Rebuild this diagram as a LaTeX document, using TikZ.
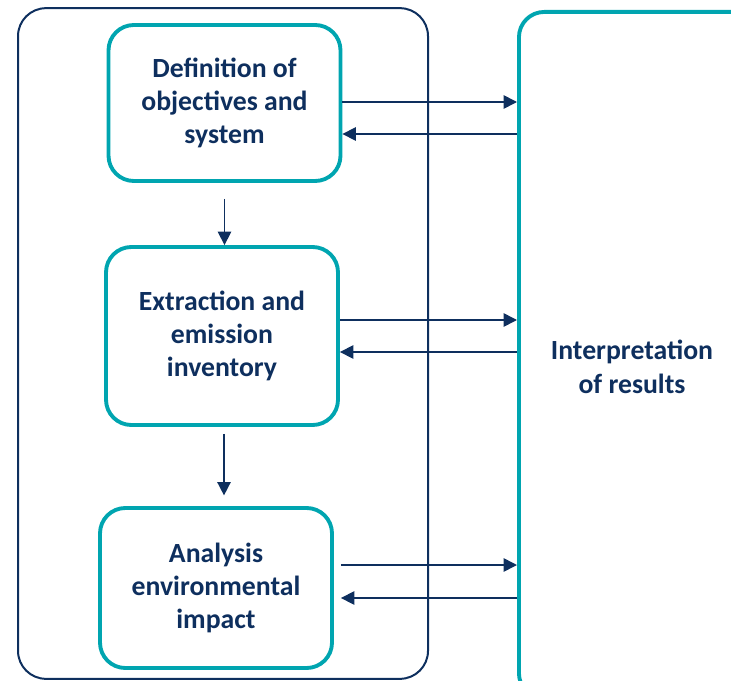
\documentclass[tikz,border=0pt]{standalone}
\usepackage{fontspec}
\setmainfont{Carlito}
\definecolor{lcanavy}{HTML}{0E2F5E}
\definecolor{lcateal}{HTML}{00A5B0}
\usetikzlibrary{positioning,arrows.meta,calc}

\begin{document}
\begin{tikzpicture}[
  x=0.75pt, y=-0.75pt,
  font=\bfseries\fontsize{20.8}{25}\selectfont,
  frame/.style={draw=lcanavy, line width=1.5pt, rounded corners=21pt, minimum width=307.5pt, minimum height=503pt},
  phase/.style={draw=lcateal, line width=2.9pt, rounded corners=19pt, text=lcanavy, align=center, inner sep=0pt, minimum width=174pt},
  arr/.style={-{Triangle[length=10pt,width=10pt]}, line width=1.2pt, draw=lcanavy},
]
  \clip (0,0) rectangle (731,681);
  \node[frame] (lca) at (223,343.5) {};
  \node[phase, minimum height=117pt] (goal) at (224.5,103) {Definition of\\objectives and\\system};
  \node[phase, minimum height=133.5pt] (inv) at (222,336) {Extraction and\\emission\\inventory};
  \node[phase, minimum height=120pt] (imp) at (216,588) {Analysis\\environmental\\impact};
  \node[phase, anchor=north west, minimum width=240pt, minimum height=515pt] (interp) at (517,10) {};
  \node[text=lcanavy, align=center] (interptxt) at (632,367) {Interpretation\\of results};
  % steps down
  \draw[arr] ($(goal.south)+(0,16)$) coordinate (d1) -- (d1 |- inv.north);
  \draw[arr, shorten >=8pt] ($(inv.south)+(2,7)$) coordinate (d2) -- (d2 |- imp.north);
  % to and from interpretation
  \draw[arr] ($(goal.east)+(0,-1)$) coordinate (o1) -- (o1 -| interp.west);
  \draw[arr] ($(goal.east)+(0,31)$) coordinate (r1) (r1 -| interp.west) -- (r1);
  \draw[arr] ($(inv.east)+(0,-16)$) coordinate (o2) -- (o2 -| interp.west);
  \draw[arr] ($(inv.east)+(0,16)$) coordinate (r2) (r2 -| interp.west) -- (r2);
  \draw[arr] ($(imp.east)+(7,-23)$) coordinate (o3) -- (o3 -| interp.west);
  \draw[arr] ($(imp.east)+(7,10)$) coordinate (r3) (r3 -| interp.west) -- (r3);
\end{tikzpicture}
\end{document}
